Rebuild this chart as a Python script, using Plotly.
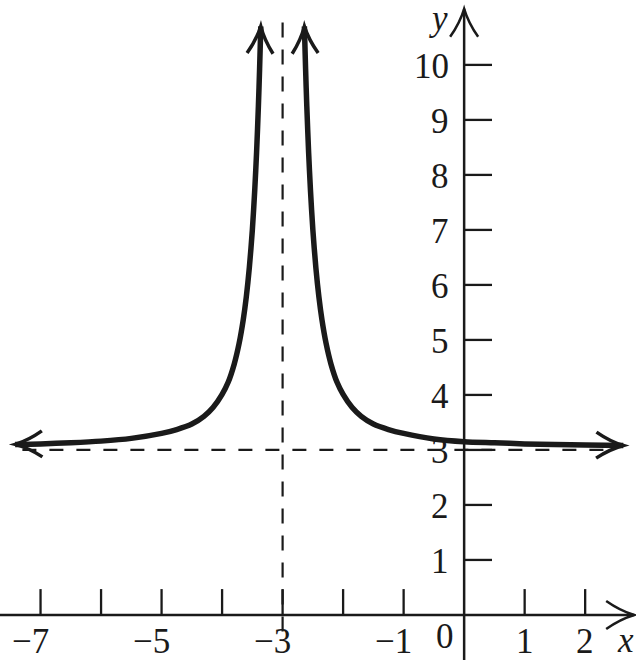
import plotly.graph_objects as go

# ---- data ----
left_x = [-7.42, -7.0, -6.5, -6.0, -5.5, -5.0, -4.75, -4.5, -4.3, -4.15, -4.0,
          -3.9, -3.8, -3.72, -3.65, -3.6, -3.55, -3.5, -3.46, -3.43, -3.40, -3.38, -3.36]
left_y = [3.10, 3.11, 3.13, 3.16, 3.21, 3.30, 3.37, 3.47, 3.61, 3.77, 4.01,
          4.23, 4.56, 4.93, 5.37, 5.78, 6.31, 7.0, 7.73, 8.41, 9.25, 9.93, 10.70]
right_x = [-2.64, -2.62, -2.60, -2.57, -2.54, -2.5, -2.45, -2.4, -2.35, -2.28,
           -2.2, -2.1, -2.0, -1.85, -1.7, -1.5, -1.25, -1.0, -0.5, 0.0, 0.5,
           1.0, 1.5, 2.0, 2.63]
right_y = [10.70, 9.93, 9.25, 8.41, 7.73, 7.0, 6.31, 5.78, 5.37, 4.93,
           4.56, 4.23, 4.01, 3.77, 3.61, 3.47, 3.37, 3.30, 3.20, 3.15, 3.13,
           3.11, 3.10, 3.09, 3.08]

asym_x = -3
asym_y = 3
x_ticks = [-7, -6, -5, -4, -3, -2, -1, 0, 1, 2]
x_labels = {-7: "\u22127", -5: "\u22125", -3: "\u22123", -1: "\u22121", 1: "1", 2: "2"}
y_ticks = [1, 2, 3, 4, 5, 6, 7, 8, 9, 10]

# ---- geometry ----
W, H = 636, 665
XR = [-7.67, 2.84]
YR = [-0.91, 11.18]
SX = W / (XR[1] - XR[0])
SY = H / (YR[1] - YR[0])


def to_px(x, y):
    return ((x - XR[0]) * SX, (YR[1] - y) * SY)


def to_data(px, py):
    return (XR[0] + px / SX, YR[1] - py / SY)


FONT = "Times New Roman, Liberation Serif, Times, serif"
BLACK = "#1a1a1a"

fig = go.Figure()
for xs, ys in [(left_x, left_y), (right_x, right_y)]:
    fig.add_trace(go.Scatter(x=xs, y=ys, mode="lines",
                             line=dict(color=BLACK, width=5.5, shape="spline", smoothing=0.8),
                             hoverinfo="skip"))

shapes = []


def line(x0, y0, x1, y1, width=2.5, dash=None):
    d = dict(type="line", x0=x0, y0=y0, x1=x1, y1=y1, xref="x", yref="y",
             line=dict(color=BLACK, width=width))
    if dash:
        d["line"]["dash"] = dash
    shapes.append(d)


def chevron(tipx, tipy, fromx, fromy, width=3, back=27, half=13):
    tx, ty = to_px(tipx, tipy)
    fx, fy = to_px(fromx, fromy)
    dx, dy = tx - fx, ty - fy
    n = (dx * dx + dy * dy) ** 0.5
    dx, dy = dx / n, dy / n
    nx, ny = -dy, dx
    parts = []
    for s in (1, -1):
        ex, ey = tx - back * dx + s * half * nx, ty - back * dy + s * half * ny
        cx, cy = tx - 0.5 * back * dx + s * 0.3 * half * nx, ty - 0.5 * back * dy + s * 0.3 * half * ny
        parts.append(((ex, ey), (cx, cy)))
    (e1, c1), (e2, c2) = parts
    p = lambda q: "%.4f,%.4f" % to_data(*q)
    path = "M %s Q %s %s Q %s %s" % (p(e1), p(c1), p((tx, ty)), p(c2), p(e2))
    shapes.append(dict(type="path", path=path, xref="x", yref="y",
                       line=dict(color=BLACK, width=width)))


# asymptotes
line(asym_x, -0.3, asym_x, 10.8, width=2.2, dash="15px,12px")
line(-7.3, asym_y, 2.47, asym_y, width=2.2, dash="14px,13px")

# axes
x_tip = 2.81
y_tip = 11.02
line(XR[0], 0, x_tip, 0, width=2.5)
line(0, -0.82, 0, y_tip, width=2.5)
chevron(x_tip, 0, 0, 0, width=2.5, back=28, half=14)
chevron(0, y_tip, 0, 0, width=2.5, back=28, half=14)

# ticks
for t in x_ticks:
    if t != 0:
        line(t, 0, t, 0.47, width=2.3)
for t in y_ticks:
    line(0, t, 0.46, t, width=2.3)

# curve arrowheads
chevron(left_x[0], left_y[0], left_x[1], left_y[1], width=3.5)
chevron(left_x[-1], left_y[-1], left_x[-2], left_y[-2], width=3.5)
chevron(right_x[0], right_y[0], right_x[1], right_y[1], width=3.5)
chevron(right_x[-1], right_y[-1], right_x[-2], right_y[-2], width=3.5)

annotations = []
for t, s in x_labels.items():
    if t < 0:
        annotations.append(dict(x=t, y=0, text=s, showarrow=False, xanchor="right",
                                yanchor="middle", xshift=10, yshift=-27,
                                font=dict(family=FONT, size=35, color=BLACK)))
    else:
        annotations.append(dict(x=t, y=0, text=s, showarrow=False, xanchor="center",
                                yanchor="middle", yshift=-27,
                                font=dict(family=FONT, size=35, color=BLACK)))
annotations.append(dict(x=0, y=0, text="0", showarrow=False, xanchor="right",
                        yanchor="middle", xshift=-8, yshift=-22,
                        font=dict(family=FONT, size=35, color=BLACK)))
for t in y_ticks:
    annotations.append(dict(x=0, y=t, text=str(t), showarrow=False, xanchor="right",
                            yanchor="middle", xshift=-13, yshift=-2,
                            font=dict(family=FONT, size=35, color=BLACK)))
annotations.append(dict(x=x_tip, y=0, text="<i>x</i>", showarrow=False, xanchor="right",
                        yanchor="middle", xshift=2, yshift=-26,
                        font=dict(family=FONT, size=35, color=BLACK)))
annotations.append(dict(x=0, y=y_tip, text="<i>y</i>", showarrow=False, xanchor="right",
                        yanchor="middle", xshift=-14, yshift=-10,
                        font=dict(family=FONT, size=35, color=BLACK)))

fig.update_layout(
    width=W, height=H,
    margin=dict(l=0, r=0, t=0, b=0),
    plot_bgcolor="white", paper_bgcolor="white",
    showlegend=False,
    xaxis=dict(range=XR, visible=False, fixedrange=True),
    yaxis=dict(range=YR, visible=False, fixedrange=True),
    shapes=shapes,
    annotations=annotations,
)

fig.write_html("out.html", config={"displayModeBar": False},
               post_script="document.body.style.margin='0';")
